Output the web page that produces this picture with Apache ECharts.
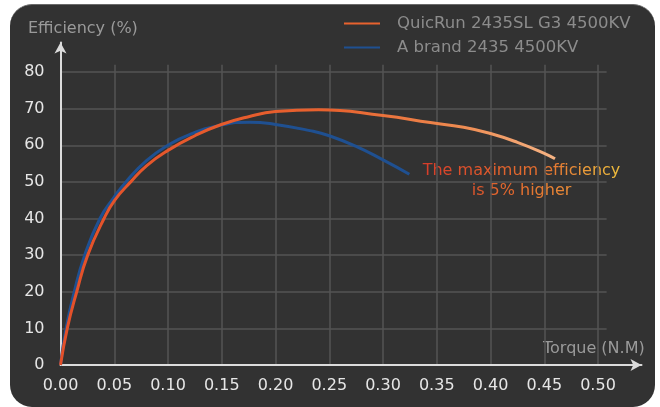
<!DOCTYPE html>
<html>
<head>
<meta charset="utf-8">
<script src="https://cdn.jsdelivr.net/npm/echarts@6/dist/echarts.min.js"></script>
<style>
  html, body { margin: 0; padding: 0; background: #ffffff; }
  #bg { position: absolute; left: 10px; top: 4px; width: 645px; height: 403px; background: #323232; border-radius: 22px; border-top: 1px solid #6a6a6a; box-sizing: border-box; }
  #chart { position: absolute; left: 0; top: 0; width: 660px; height: 407px; }
</style>
</head>
<body>
<div id="bg"></div>
<div id="chart"></div>
<script>
// ---- data ----
const seriesNames = ['QuicRun 2435SL G3 4500KV', 'A brand 2435 4500KV'];
const quicrunTorque = [0, 0.0063, 0.0151, 0.0253, 0.0405, 0.0505, 0.0653, 0.08, 0.10, 0.125, 0.149, 0.175, 0.20, 0.24, 0.30, 0.344, 0.375, 0.40, 0.425, 0.45, 0.46];
const quicrunEff    = [0, 10, 20, 30, 40, 45, 50, 54.4, 58.6, 62.6, 65.6, 67.8, 69.2, 69.7, 68.1, 66.2, 64.9, 63.2, 60.8, 57.8, 56.3];
const brandTorque   = [0, 0.0052, 0.0128, 0.0225, 0.0367, 0.0491, 0.0609, 0.08, 0.10, 0.1205, 0.148, 0.176, 0.20, 0.232, 0.25, 0.275, 0.30, 0.3245];
const brandEff      = [0, 10, 20, 30, 40, 45.5, 50, 55.8, 60.0, 63.0, 65.4, 66.3, 65.7, 64.0, 62.6, 59.7, 56.0, 52.1];
const xTickStep = 0.05;
const yTickStep = 10;
const annotationLines = ['The maximum efficiency', 'is 5% higher'];
const xAxisTitle = 'Torque (N.M)';
const yAxisTitle = 'Efficiency (%)';

const zip = (xs, ys) => xs.map((x, i) => [x, ys[i]]);

const FONT = 'DejaVu Sans';

// horizontal colour gradient of the annotation text, applied per character
function lerpColor(stops, f) {
  for (let i = 0; i < stops.length - 1; i++) {
    const a = stops[i], b = stops[i + 1];
    if (f <= b[0]) {
      const t = (f - a[0]) / (b[0] - a[0]);
      const ca = a[1], cb = b[1];
      const c = [0, 1, 2].map(k => Math.round(ca[k] + (cb[k] - ca[k]) * t));
      return 'rgb(' + c.join(',') + ')';
    }
  }
  const l = stops[stops.length - 1][1];
  return 'rgb(' + l.join(',') + ')';
}
const gradStops = [[0, [214, 62, 42]], [0.5, [226, 110, 47]], [0.78, [232, 140, 56]], [1, [236, 184, 60]]];
const rich = {};
let richText = '';
let idx = 0;
const maxLen = Math.max(...annotationLines.map(s => s.length));
annotationLines.forEach((line, li) => {
  const off = (maxLen - line.length) / 2;
  for (let i = 0; i < line.length; i++) {
    const f = (off + i) / (maxLen - 1);
    const key = 'c' + idx++;
    const col = lerpColor(gradStops, f);
    rich[key] = { fill: col, color: col, fontSize: 16, fontFamily: FONT, lineHeight: 20 };
    richText += '{' + key + '|' + line[i] + '}';
  }
  if (li < annotationLines.length - 1) richText += '\n';
});

const chart = echarts.init(document.getElementById('chart'), null, { renderer: 'canvas' });

const option = {
  backgroundColor: 'transparent',
  animation: false,
  textStyle: { fontFamily: FONT },
  legend: {
    orient: 'vertical',
    left: 339,
    top: 10,
    itemWidth: 36,
    itemHeight: 16,
    itemGap: 7,
    icon: 'path://M0,7 L36,7 L36,9 L0,9 Z',
    textStyle: { color: '#8c8c8c', fontSize: 16.5, fontFamily: FONT, lineHeight: 16, padding: [0, 0, 0, 12] },
    data: seriesNames
  },
  grid: [
    { left: 60.5, top: 64.7, width: 546.1, height: 300.3, containLabel: false },
    { left: 60.5, top: 42.5, width: 581, height: 322.5, containLabel: false }
  ],
  xAxis: [
    {
      type: 'value', gridIndex: 0, min: 0, max: 0.508, interval: xTickStep,
      axisLine: { show: false }, axisTick: { show: false },
      axisLabel: { color: '#e6e6e6', fontSize: 16, fontFamily: FONT, margin: 13, showMaxLabel: false,
        formatter: v => v.toFixed(2) },
      splitLine: { show: true, showMaxLine: false, lineStyle: { color: '#555555', width: 1.5 } }
    },
    {
      type: 'value', gridIndex: 1, min: 0, max: 1,
      axisLine: { show: true, symbol: ['none', 'arrow'], symbolSize: [9, 11], lineStyle: { color: '#dcdcdc', width: 2 } },
      axisTick: { show: false }, axisLabel: { show: false }, splitLine: { show: false }
    }
  ],
  yAxis: [
    {
      type: 'value', gridIndex: 0, min: 0, max: 82, interval: yTickStep,
      axisLine: { show: false }, axisTick: { show: false },
      axisLabel: { color: '#e6e6e6', fontSize: 16, fontFamily: FONT, margin: 16, showMaxLabel: false },
      splitLine: { show: true, showMaxLine: false, lineStyle: { color: '#555555', width: 1.5 } }
    },
    {
      type: 'value', gridIndex: 1, min: 0, max: 1,
      axisLine: { show: true, symbol: ['none', 'arrow'], symbolSize: [9, 11], lineStyle: { color: '#dcdcdc', width: 2 } },
      axisTick: { show: false }, axisLabel: { show: false }, splitLine: { show: false }
    }
  ],
  series: [
    {
      name: seriesNames[1], type: 'line', xAxisIndex: 0, yAxisIndex: 0,
      data: zip(brandTorque, brandEff), smooth: 0.5, symbol: 'none',
      lineStyle: { color: '#1f5091', width: 3 }, itemStyle: { color: '#1f5091' }, z: 3
    },
    {
      name: seriesNames[0], type: 'line', xAxisIndex: 0, yAxisIndex: 0,
      data: zip(quicrunTorque, quicrunEff), smooth: 0.5, symbol: 'none',
      lineStyle: {
        width: 3,
        color: new echarts.graphic.LinearGradient(0, 0, 1, 0, [
          { offset: 0, color: '#e3502a' },
          { offset: 0.55, color: '#e8622e' },
          { offset: 0.8, color: '#ee8a50' },
          { offset: 1, color: '#f5b485' }
        ])
      },
      itemStyle: { color: '#e8622e' }, z: 4
    }
  ],
  graphic: [
    { type: 'text', left: 28, top: 21, style: { text: yAxisTitle, fill: '#9a9a9a', font: '16px "DejaVu Sans"' } },
    { type: 'text', left: 543, top: 341, style: { text: xAxisTitle, fill: '#9a9a9a', font: '16px "DejaVu Sans"' } },
    {
      type: 'text', x: 521.5, y: 161,
      style: { text: richText, rich: rich, align: 'center', verticalAlign: 'top', font: '16px "DejaVu Sans"' }
    }
  ]
};
chart.setOption(option);
</script>
</body>
</html>
